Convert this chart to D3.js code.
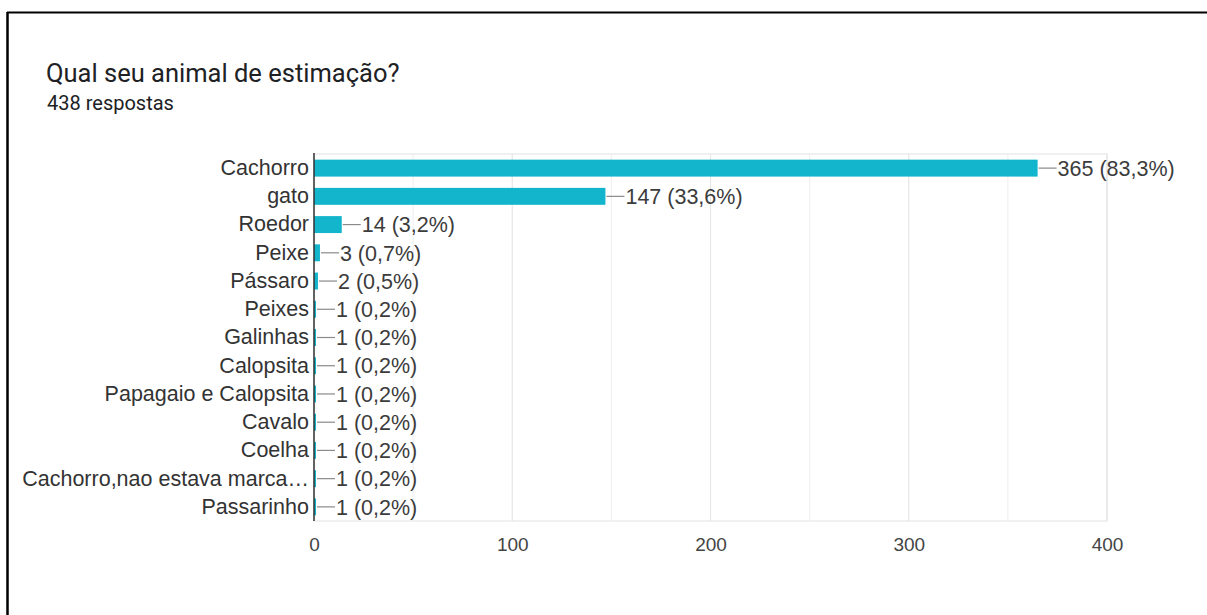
<!DOCTYPE html>
<html>
<head>
<meta charset="utf-8">
<script src="https://cdn.jsdelivr.net/npm/d3@7"></script>
<style>
  html, body { margin: 0; padding: 0; background: #fff; }
  svg { display: block; }
</style>
</head>
<body>
<svg id="chart" width="1207" height="615"></svg>
<script>
// Survey answers: "Qual seu animal de estimação?"
const categories = [
  "Cachorro", "gato", "Roedor", "Peixe", "Pássaro", "Peixes", "Galinhas",
  "Calopsita", "Papagaio e Calopsita", "Cavalo", "Coelha",
  "Cachorro,nao estava marca…", "Passarinho"
];
const counts = [365, 147, 14, 3, 2, 1, 1, 1, 1, 1, 1, 1, 1];
const percents = ["83,3%", "33,6%", "3,2%", "0,7%", "0,5%", "0,2%", "0,2%",
  "0,2%", "0,2%", "0,2%", "0,2%", "0,2%", "0,2%"];
const xTicks = [0, 100, 200, 300, 400];
const gridValues = [50, 100, 150, 200, 250, 300, 350, 400];
const titleText = "Qual seu animal de estimação?";
const subtitleText = "438 respostas";

const svg = d3.select("#chart");
const W = 1207, H = 615;
const labelFont = "Arial, 'Liberation Sans', sans-serif";

// outer frame (top and left edges)
svg.append("line").attr("x1", 7).attr("x2", W).attr("y1", 12.5).attr("y2", 12.5)
  .attr("stroke", "#000").attr("stroke-width", 2);
svg.append("line").attr("x1", 7.5).attr("x2", 7.5).attr("y1", 12).attr("y2", H)
  .attr("stroke", "#000").attr("stroke-width", 2.5);

svg.append("text").attr("x", 46).attr("y", 82)
  .attr("font-family", "Roboto, sans-serif").attr("font-size", 25.5)
  .attr("fill", "#202124").text(titleText);
svg.append("text").attr("x", 47).attr("y", 110)
  .attr("font-family", "Roboto, sans-serif").attr("font-size", 20)
  .attr("fill", "#202124").text(subtitleText);

const plot = { left: 314, right: 1107, top: 154, bottom: 521 };

const x = d3.scaleLinear().domain([0, 400]).range([plot.left, plot.right]);
const y = d3.scaleBand().domain(categories).range([plot.top, plot.bottom])
  .paddingInner(0.4).paddingOuter(0.2);

const g = svg.append("g");

// plot frame and gridlines
g.append("rect").attr("x", plot.left).attr("y", plot.top)
  .attr("width", plot.right - plot.left).attr("height", plot.bottom - plot.top)
  .attr("fill", "none").attr("stroke", "#ececec").attr("stroke-width", 1.5);
g.selectAll("line.grid").data(gridValues).join("line")
  .attr("class", "grid")
  .attr("x1", d => x(d)).attr("x2", d => x(d))
  .attr("y1", plot.top).attr("y2", plot.bottom)
  .attr("stroke", d => d % 100 === 0 ? "#e6e6e6" : "#f0f0f0").attr("stroke-width", 1.2);

// bars
const data = categories.map((c, i) => ({ c, v: counts[i], p: percents[i] }));
g.selectAll("rect.bar").data(data).join("rect")
  .attr("class", "bar")
  .attr("x", x(0)).attr("y", d => y(d.c))
  .attr("width", d => x(d.v) - x(0)).attr("height", y.bandwidth())
  .attr("fill", "#12b5cb");

// leader lines and value labels
g.selectAll("line.lead").data(data).join("line")
  .attr("class", "lead")
  .attr("x1", d => x(d.v) + 1).attr("x2", d => x(d.v) + 19)
  .attr("y1", d => y(d.c) + y.bandwidth() / 2).attr("y2", d => y(d.c) + y.bandwidth() / 2)
  .attr("stroke", "#8a8a8a").attr("stroke-width", 1.2);
g.selectAll("text.val").data(data).join("text")
  .attr("class", "val")
  .attr("x", d => x(d.v) + 20).attr("y", d => y(d.c) + y.bandwidth() / 2)
  .attr("dy", "0.36em")
  .attr("font-family", labelFont).attr("font-size", 21.5)
  .attr("fill", "#3c3c3c")
  .text(d => `${d.v} (${d.p})`);

// category axis
const yAxis = g.append("g").attr("transform", `translate(${plot.left},0)`)
  .call(d3.axisLeft(y).tickSize(0).tickPadding(5));
yAxis.select(".domain").attr("stroke", "#333").attr("stroke-width", 1.5)
  .attr("d", `M0,${plot.top - 1}V${plot.bottom}`);
yAxis.selectAll("text")
  .attr("font-family", labelFont).attr("font-size", 21.5)
  .attr("fill", "#333");

// value axis
const xAxis = g.append("g").attr("transform", `translate(0,${plot.bottom})`)
  .call(d3.axisBottom(x).tickValues(xTicks).tickSize(0).tickPadding(17));
xAxis.select(".domain").remove();
xAxis.selectAll("text")
  .attr("font-family", labelFont).attr("font-size", 19)
  .attr("fill", "#444");
</script>
</body>
</html>
